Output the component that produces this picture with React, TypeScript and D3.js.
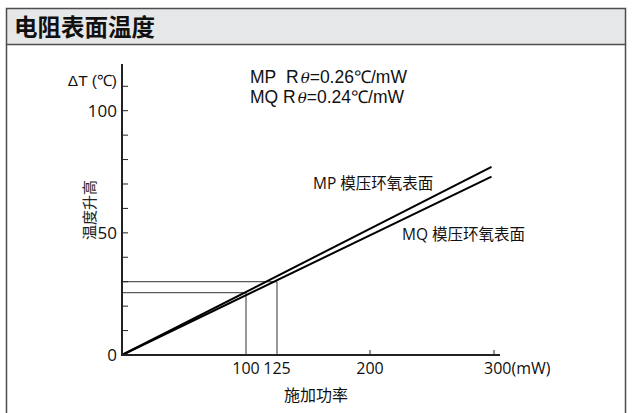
import * as d3 from "d3";
import { useEffect, useRef } from "react";

// power (mW) and temperature rise (℃)
const powerPoints = [0, 298];
const mpRise = [0, 77];
const mqRise = [0, 73];
const guidePower = [100, 125];
const guideRise = [25.5, 30];
const yTicks = [10, 20, 30, 40, 50, 60, 70, 80, 90, 100, 110];
const yLabels = [0, 50, 100];
const xTicks = [200, 300];
const xLabels = ["100", "125", "200", "300(mW)"];
const xLabelValues = [100, 125, 200, 300];
const rNames = ["MP\u00a0\u00a0R", "MQ\u00a0R"];
const rValues = ["0.26", "0.24"];

const W = 632;
const H = 413;
const FONT = "'Open Sans', 'Noto Sans CJK SC', sans-serif";
const CJK = "'Noto Sans CJK SC', sans-serif";
const ARIAL = "'Liberation Sans', Arial, sans-serif";

const App = () => {
  const svgRef = useRef<SVGSVGElement | null>(null);

  useEffect(() => {
    const svg = d3.select(svgRef.current);
    svg.selectAll("*").remove();

    // frame + header
    svg.append("rect").attr("x", 6.5).attr("y", 8.5).attr("width", 619).attr("height", 36)
      .attr("fill", "#e6e7e8").attr("stroke", "#4d4d4d").attr("stroke-width", 1.5);
    svg.append("path").attr("d", "M6.5,44.5V414M625.5,44.5V414")
      .attr("stroke", "#4d4d4d").attr("stroke-width", 1.5).attr("fill", "none");
    svg.append("text").attr("x", 14).attr("y", 36)
      .attr("font-family", CJK).attr("font-weight", "bold").attr("font-size", 23.5)
      .attr("fill", "#111").text("电阻表面温度");

    const x = d3.scaleLinear().domain([0, 300]).range([122, 494]);
    const y = d3.scaleLinear().domain([0, 100]).range([355, 110.7]);

    // guide lines at 100 and 125 mW
    const g = svg.append("g").attr("stroke", "#333").attr("stroke-width", 1).attr("fill", "none");
    guidePower.forEach((p, i) => {
      g.append("line").attr("x1", x(p)).attr("x2", x(p)).attr("y1", y(0)).attr("y2", y(guideRise[i]));
      g.append("line").attr("x1", x(0)).attr("x2", x(p)).attr("y1", y(guideRise[i])).attr("y2", y(guideRise[i]));
    });

    // series
    const line = d3.line<number>().x((_, i) => x(powerPoints[i])).y((d) => y(d));
    [mpRise, mqRise].forEach((s) => {
      svg.append("path").attr("d", line(s)).attr("stroke", "#000").attr("stroke-width", 2).attr("fill", "none");
    });

    // axes
    const ax = svg.append("g").attr("stroke", "#222").attr("fill", "none");
    ax.append("line").attr("x1", x(0)).attr("x2", 500).attr("y1", y(0)).attr("y2", y(0)).attr("stroke-width", 2);
    ax.append("line").attr("x1", x(0)).attr("x2", x(0)).attr("y1", y(0) + 1).attr("y2", 64).attr("stroke-width", 2);
    yTicks.forEach((t) => {
      ax.append("line").attr("x1", x(0)).attr("x2", x(0) + 6).attr("y1", y(t)).attr("y2", y(t)).attr("stroke-width", 1);
    });
    xTicks.forEach((t) => {
      ax.append("line").attr("x1", x(t)).attr("x2", x(t)).attr("y1", y(0)).attr("y2", y(0) - 5).attr("stroke-width", 1);
    });

    const txt = svg.append("g").attr("font-family", FONT).attr("fill", "#111");
    yLabels.forEach((v) => {
      txt.append("text").attr("x", 117).attr("y", y(v) + 6).attr("text-anchor", "end")
        .attr("font-size", 17).text(String(v));
    });
    xLabels.forEach((l, i) => {
      const v = xLabelValues[i];
      const t = txt.append("text").attr("y", 374).attr("font-size", 16).text(l);
      if (i === 3) t.attr("x", x(v) - 10);
      else t.attr("x", x(v)).attr("text-anchor", "middle");
    });
    txt.append("text").attr("x", 117).attr("y", 86).attr("text-anchor", "end")
      .attr("font-size", 15.5).attr("font-family", ARIAL).text("ΔT (℃)");

    rNames.forEach((n, i) => {
      const t = txt.append("text").attr("x", 250).attr("y", 83 + i * 20)
        .attr("font-size", 17.5).attr("font-family", ARIAL);
      t.append("tspan").text(n);
      t.append("tspan").attr("font-style", "italic").attr("font-family", "'DejaVu Serif', serif")
        .attr("font-size", 15).attr("dx", 2).text("θ");
      t.append("tspan").text("=" + rValues[i] + "℃/mW");
    });

    txt.append("text").attr("x", 313).attr("y", 189).attr("font-size", 15.5).text("MP 模压环氧表面");
    txt.append("text").attr("x", 402).attr("y", 240).attr("font-size", 15.5).text("MQ 模压环氧表面");
    txt.append("text").attr("x", 316).attr("y", 401).attr("text-anchor", "middle").attr("font-size", 16)
      .attr("font-family", CJK).text("施加功率");
    txt.append("text").attr("transform", "translate(95,210) rotate(-90)").attr("text-anchor", "middle")
      .attr("font-size", 15).attr("font-family", CJK).attr("fill", "#222").text("温度升高");
  }, []);

  return (
    <svg ref={svgRef} width={W} height={H}
      style={{ position: "absolute", left: 0, top: 0, background: "#fff" }} />
  );
};

export default App;
